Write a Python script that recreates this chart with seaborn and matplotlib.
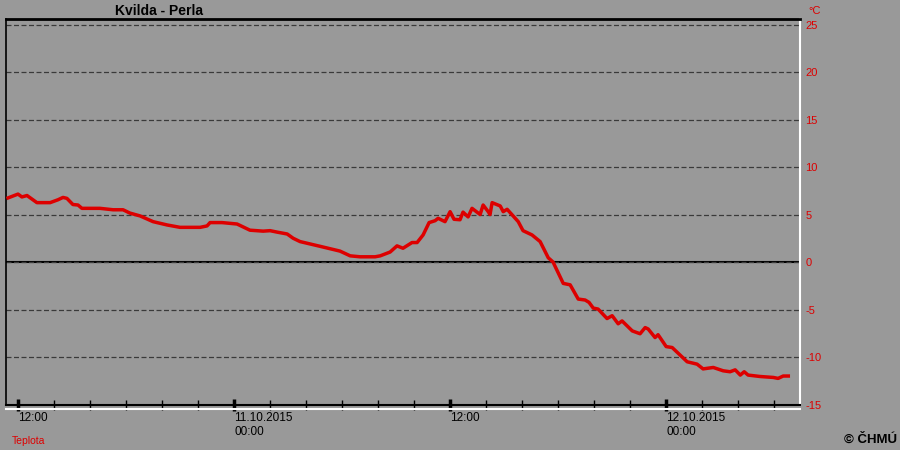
import pandas as pd
import matplotlib.pyplot as plt
import matplotlib.dates as mdates
import matplotlib.ticker as mticker
import seaborn as sns

# Temperature readings, Kvilda - Perla (10.-12.10.2015)
times = [
    '2015-10-10 11:27', '2015-10-10 12:00', '2015-10-10 12:13', '2015-10-10 12:30',
    '2015-10-10 13:03', '2015-10-10 13:47', '2015-10-10 14:13', '2015-10-10 14:30',
    '2015-10-10 14:43', '2015-10-10 15:03', '2015-10-10 15:20', '2015-10-10 15:33',
    '2015-10-10 16:33', '2015-10-10 17:17', '2015-10-10 17:50', '2015-10-10 18:13',
    '2015-10-10 18:47', '2015-10-10 19:30', '2015-10-10 20:17', '2015-10-10 21:00',
    '2015-10-10 22:07', '2015-10-10 22:30', '2015-10-10 22:40', '2015-10-10 23:20',
    '2015-10-11 00:10', '2015-10-11 00:53', '2015-10-11 01:37', '2015-10-11 02:00',
    '2015-10-11 02:23', '2015-10-11 02:57', '2015-10-11 03:17', '2015-10-11 03:40',
    '2015-10-11 04:47', '2015-10-11 05:53', '2015-10-11 06:27', '2015-10-11 07:00',
    '2015-10-11 07:50', '2015-10-11 08:07', '2015-10-11 08:40', '2015-10-11 09:03',
    '2015-10-11 09:23', '2015-10-11 09:53', '2015-10-11 10:10', '2015-10-11 10:30',
    '2015-10-11 10:50', '2015-10-11 11:10', '2015-10-11 11:20', '2015-10-11 11:43',
    '2015-10-11 12:00', '2015-10-11 12:13', '2015-10-11 12:33', '2015-10-11 12:43',
    '2015-10-11 13:00', '2015-10-11 13:13', '2015-10-11 13:40', '2015-10-11 13:50',
    '2015-10-11 14:07', '2015-10-11 14:13', '2015-10-11 14:20', '2015-10-11 14:47',
    '2015-10-11 14:57', '2015-10-11 15:10', '2015-10-11 15:30', '2015-10-11 15:47',
    '2015-10-11 16:03', '2015-10-11 16:33', '2015-10-11 17:00', '2015-10-11 17:27',
    '2015-10-11 17:43', '2015-10-11 18:17', '2015-10-11 18:40', '2015-10-11 19:07',
    '2015-10-11 19:30', '2015-10-11 19:43', '2015-10-11 19:57', '2015-10-11 20:13',
    '2015-10-11 20:43', '2015-10-11 21:00', '2015-10-11 21:20', '2015-10-11 21:33',
    '2015-10-11 22:07', '2015-10-11 22:33', '2015-10-11 22:50', '2015-10-11 23:00',
    '2015-10-11 23:23', '2015-10-11 23:33', '2015-10-12 00:00', '2015-10-12 00:20',
    '2015-10-12 01:10', '2015-10-12 01:43', '2015-10-12 02:03', '2015-10-12 02:37',
    '2015-10-12 03:10', '2015-10-12 03:33', '2015-10-12 03:50', '2015-10-12 04:07',
    '2015-10-12 04:20', '2015-10-12 04:33', '2015-10-12 05:13', '2015-10-12 05:57',
    '2015-10-12 06:13', '2015-10-12 06:30', '2015-10-12 06:47',
]
temps = [
    6.8, 7.2, 6.9, 7.05,
    6.3, 6.3, 6.6, 6.85,
    6.75, 6.1, 6.05, 5.7,
    5.7, 5.55, 5.55, 5.2,
    4.9, 4.3, 3.95, 3.7,
    3.7, 3.85, 4.2, 4.2,
    4.05, 3.4, 3.3, 3.35,
    3.2, 3.0, 2.55, 2.2,
    1.7, 1.2, 0.7, 0.6,
    0.6, 0.7, 1.1, 1.75,
    1.5, 2.1, 2.1, 2.9,
    4.2, 4.4, 4.65, 4.3,
    5.35, 4.55, 4.5, 5.3,
    4.8, 5.7, 5.05, 6.05,
    5.35, 5.05, 6.3, 5.95,
    5.35, 5.6, 4.9, 4.3,
    3.35, 2.9, 2.2, 0.5,
    0.05, -2.2, -2.35, -3.85,
    -3.95, -4.2, -4.8, -4.9,
    -5.9, -5.6, -6.45, -6.15,
    -7.2, -7.5, -6.85, -7.0,
    -7.9, -7.6, -8.85, -8.95,
    -10.45, -10.7, -11.2, -11.05,
    -11.4, -11.5, -11.3, -11.85,
    -11.5, -11.85, -12.0, -12.1,
    -12.2, -11.95, -11.95,
]
y_ticks = [-15, -10, -5, 0, 5, 10, 15, 20, 25]
x_start = '2015-10-10 11:20'
x_end = '2015-10-12 07:26'

df = pd.DataFrame({'time': pd.to_datetime(times), 'teplota': temps})

plt.rcParams['font.family'] = ['Liberation Sans', 'DejaVu Sans']
plt.rcParams['axes.unicode_minus'] = False
bg = '#999999'
red = '#dd0000'

fig = plt.figure(figsize=(9, 4.5), dpi=100, facecolor=bg)
ax = fig.add_axes([6 / 900, 45 / 450, 794 / 900, 386 / 450])
ax.set_facecolor(bg)

ax.axhline(0, color='black', linewidth=1.5, zorder=1)
sns.lineplot(data=df, x='time', y='teplota', color=red, linewidth=2.5, ax=ax, zorder=3)

ax.set_xlim(pd.Timestamp(x_start), pd.Timestamp(x_end))
ax.set_ylim(-15, 25.63)
ax.set_xlabel('')
ax.set_ylabel('')

# y axis on the right, red labels, dashed horizontal grid
ax.yaxis.tick_right()
ax.set_yticks(y_ticks)
ax.tick_params(axis='y', length=0, pad=4, labelcolor=red, labelsize=8)
ax.grid(axis='y', linestyle=(0, (4, 2)), color='#3a3a3a', linewidth=0.9, zorder=0)
ax.grid(axis='x', visible=False)

# x axis: 12h major, 2h minor
ax.xaxis.set_major_locator(mdates.HourLocator(byhour=[0, 12]))
ax.xaxis.set_minor_locator(mdates.HourLocator(byhour=range(0, 24, 2)))


def fmt(x, pos):
    d = mdates.num2date(x)
    if d.hour == 0:
        return d.strftime('%d.%m.%Y') + '\n00:00'
    return d.strftime('%H:%M')


ax.xaxis.set_major_formatter(mticker.FuncFormatter(fmt))
ax.tick_params(axis='x', which='major', direction='inout', length=8, width=2.5,
               color='black', labelsize=8.5, pad=1)
ax.tick_params(axis='x', which='minor', direction='inout', length=7, width=1,
               color='black')
for lbl in ax.get_xticklabels():
    lbl.set_horizontalalignment('left')

for side, col, lw in [('top', 'black', 2), ('left', 'black', 1.2),
                      ('right', 'white', 1.5), ('bottom', 'black', 1.5)]:
    ax.spines[side].set_color(col)
    ax.spines[side].set_linewidth(lw)
ax.plot([0, 1], [-0.011, -0.011], transform=ax.transAxes, color='white',
        linewidth=1.5, clip_on=False)

fig.text(115 / 900, 1 - 11 / 450, 'Kvilda - Perla', fontsize=10, fontweight='bold',
         va='center', ha='left', color='black')
fig.text(815 / 900, 1 - 11 / 450, '°C', fontsize=8, color=red, va='center', ha='center')
fig.text(12 / 900, 1 - 441 / 450, 'Teplota', fontsize=7.5, color=red, va='center', ha='left')
fig.text(897 / 900, 1 - 440 / 450, '© ČHMÚ', fontsize=9.5, fontweight='bold',
         color='black', va='center', ha='right')

fig.savefig('out.png', dpi=100, facecolor=bg)
